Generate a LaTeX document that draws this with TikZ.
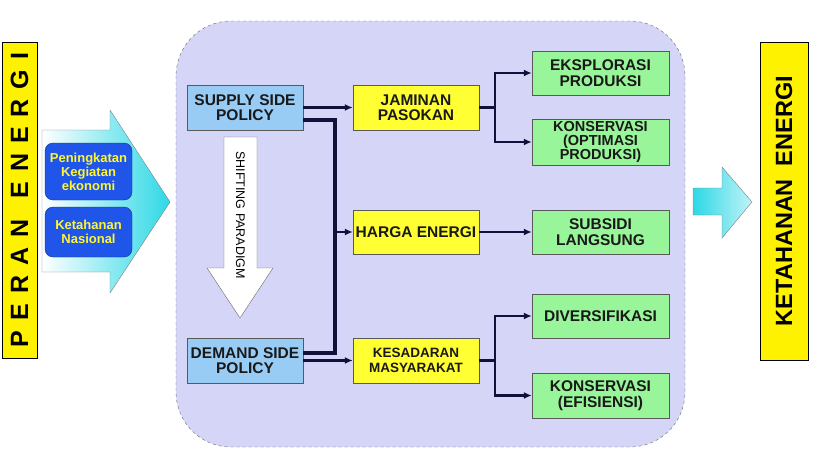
\documentclass[tikz,border=0pt]{standalone}
\usepackage{fontspec}
\setmainfont{Liberation Sans}
\usetikzlibrary{arrows.meta, positioning, calc}

\definecolor{lavbg}{HTML}{D5D5F7}
\definecolor{boxyellow}{HTML}{FFFF33}
\definecolor{boxgreen}{HTML}{99F599}
\definecolor{boxblue}{HTML}{99CCF5}
\definecolor{royal}{HTML}{1F55E8}
\definecolor{navy}{HTML}{10103A}
\definecolor{arrowcyan}{HTML}{2ED8E6}

\begin{document}
\begin{tikzpicture}[x=1pt, y=-1pt,
  box/.style={draw=gray!70!black, minimum height=45pt, align=center, inner sep=1pt,
              text=black!90, font=\fontsize{15.5}{15.5}\selectfont\bfseries},
  policy/.style={box, fill=boxblue, minimum width=116pt},
  mid/.style={box, fill=boxyellow, minimum width=126pt},
  res/.style={box, fill=boxgreen, minimum width=137pt},
  role/.style={draw=royal!60!black, fill=royal, rounded corners=8pt, minimum width=87pt,
               align=center, text=yellow!80!white, font=\fontsize{13}{14}\selectfont\bfseries},
  bar/.style={draw=black, fill=yellow, rotate=90, font=\bfseries},
  conn/.style={draw=navy, line width=2.4pt, -{Latex[length=8pt,width=7pt]}},
  bus/.style={draw=navy, line width=3.6pt}]

  \useasboundingbox (0,0) rectangle (817,450);

  % side bars
  \node[bar, minimum width=316pt, minimum height=35pt,
        font=\fontsize{25}{25}\selectfont\bfseries\addfontfeature{LetterSpace=40}]
        (peran) at (19.5,200) {PERAN \,ENERGI};
  \node[bar, minimum width=318pt, minimum height=48pt,
        font=\fontsize{23.5}{24}\selectfont\bfseries]
        (ketahanan) at (784,201) {KETAHANAN\ \ ENERGI};

  % big arrows
  \shade[draw=gray, left color=white, right color=arrowcyan]
    (42,130) -- (110,130) -- (110,110) -- (170,202) -- (110,293) -- (110,272) -- (42,272) -- cycle;
  \shade[draw=gray, left color=arrowcyan, right color=arrowcyan!30!white]
    (693,188) -- (722,188) -- (722,167) -- (752,202) -- (722,238) -- (722,215) -- (693,215) -- cycle;

  \node[role, minimum height=57pt] (kegiatan) at (88.5,171.5) {Peningkatan\\Kegiatan\\ekonomi};
  \node[role, minimum height=50pt] (nasional) at (88.5,232) {Ketahanan\\Nasional};

  % policy area
  \draw[draw=gray!80!black, dashed, fill=lavbg, rounded corners=55pt] (176,21) rectangle (685,447);

  \draw[draw=gray!80!black, fill=white]
    (224,137) -- (257,137) -- (257,268) -- (273,268) -- (240,318) -- (207,268) -- (224,268) -- cycle;
  \node[rotate=-90, font=\fontsize{12.5}{13}\selectfont] (shift) at (240.5,215) {SHIFTING PARADIGM};

  \node[policy] (supply) at (245,107.5) {SUPPLY SIDE\\POLICY};
  \node[policy] (demand) at (245,360.5) {DEMAND SIDE\\POLICY};

  \node[mid] (jaminan)   at (416,107.5) {JAMINAN\\PASOKAN};
  \node[mid, minimum height=44pt] (harga) at (416,232) {HARGA ENERGI};
  \node[mid, font=\fontsize{13.5}{14.5}\selectfont\bfseries] (kesadaran) at (416,360.5) {KESADARAN\\MASYARAKAT};

  \node[res, minimum height=44pt] (eksplorasi) at (600.5,73)  {EKSPLORASI\\PRODUKSI};
  \node[res, minimum height=46pt, font=\fontsize{14.5}{14}\selectfont\bfseries]
        (optimasi)   at (600.5,142) {KONSERVASI\\(OPTIMASI\\PRODUKSI)};
  \node[res, minimum height=44pt] (subsidi)    at (600.5,232) {SUBSIDI\\LANGSUNG};
  \node[res, minimum height=44pt] (diversi)    at (600.5,316) {DIVERSIFIKASI};
  \node[res, minimum height=45pt] (efisiensi)  at (600.5,395.5) {KONSERVASI\\(EFISIENSI)};

  % connectors
  \draw[conn] (supply) -- (jaminan);
  \draw[bus] ([yshift=-12.5pt]supply.east) -- ++(32,0) coordinate (split)
             |- ([yshift=7.5pt]demand.east);
  \draw[conn] (split |- harga.west) -- (harga);
  \draw[conn] (demand.east) -- (kesadaran.west |- demand.east);

  \draw[draw=navy, line width=2.4pt] (jaminan.east) -- ++(16,0) coordinate (jfork);
  \draw[conn] (jfork) |- (eksplorasi);
  \draw[conn] (jfork) |- (optimasi);
  \draw[conn] (harga) -- (subsidi);
  \draw[draw=navy, line width=2.4pt] (kesadaran.east) -- ++(16,0) coordinate (kfork);
  \draw[conn] (kfork) |- (diversi);
  \draw[conn] (kfork) |- (efisiensi);
\end{tikzpicture}
\end{document}
